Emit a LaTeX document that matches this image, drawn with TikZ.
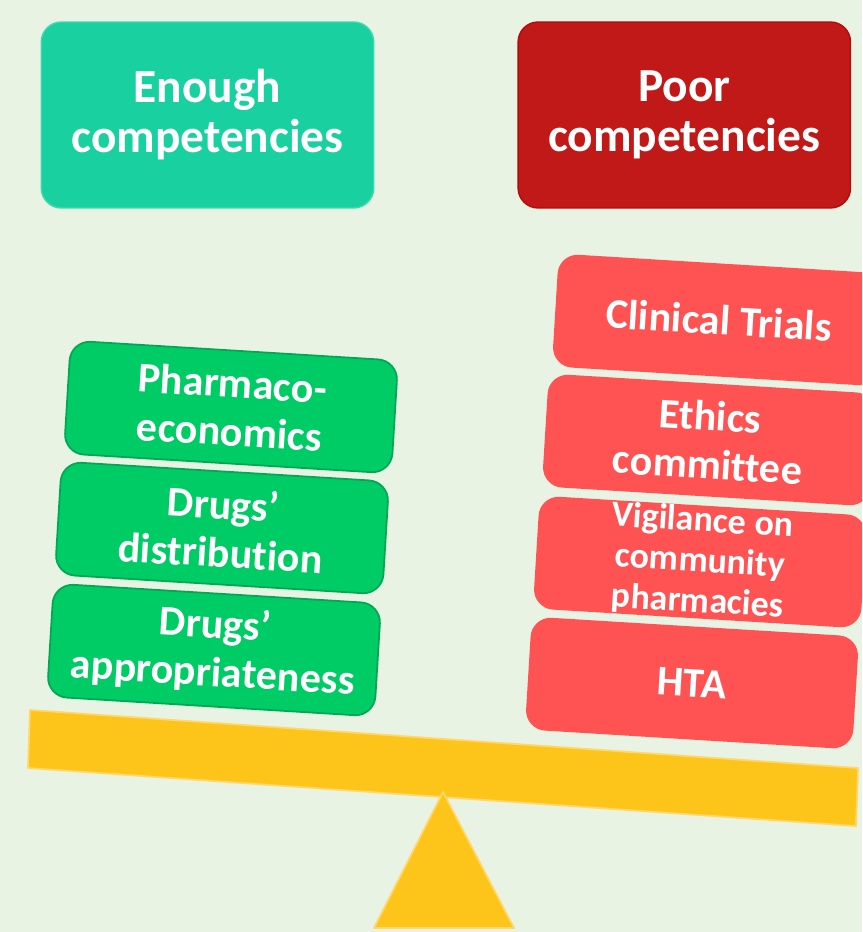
\documentclass[tikz,border=0pt]{standalone}
\usepackage{fontspec}
\setmainfont{Carlito}[Ligatures={TeX,NoCommon}]
\usetikzlibrary{positioning}

\definecolor{bgpale}{RGB}{232,243,227}
\definecolor{tealhead}{RGB}{24,208,160}
\definecolor{tealedge}{RGB}{60,218,176}
\definecolor{redhead}{RGB}{193,24,24}
\definecolor{rededge}{RGB}{176,12,12}
\definecolor{goodgreen}{RGB}{0,204,102}
\definecolor{goodedge}{RGB}{0,168,84}
\definecolor{poorred}{RGB}{255,82,82}
\definecolor{beamyellow}{RGB}{253,196,26}
\definecolor{beamedge}{RGB}{255,216,105}

\begin{document}
\begin{tikzpicture}[x=0.02cm, y=-0.02cm,
    header/.style={rectangle, rounded corners=0.4cm, minimum width=6.65cm, minimum height=3.72cm, align=center, text=white, font=\fontsize{27}{28.5}\selectfont\bfseries, line width=0.8pt},
    enough/.style={header, draw=tealedge, fill=tealhead},
    poor/.style={header, draw=rededge, fill=redhead},
    item/.style={rectangle, rounded corners=0.4cm, rotate=-3.5, minimum width=6.56cm, minimum height=2.26cm, align=center, text=white, font=\fontsize{24}{27.5}\selectfont\bfseries},
    gooditem/.style={item, fill=goodgreen, draw=goodedge, line width=1pt},
    pooritem/.style={item, fill=poorred},
    support/.style={fill=beamyellow, draw=beamedge, line width=1pt, line join=round},
]

% Background and page size
\fill[bgpale] (0,0) rectangle (862,932);
\useasboundingbox (0,0) rectangle (862,932);
\clip (0,0) rectangle (862,932);

% Headers
\node[enough] (enough) at (207.5,115) {Enough\\competencies};
\node[poor, right=2.86cm of enough] (poorhead) {Poor\\competencies};

% Beam of the scale
\draw[support] (30,710) -- (858,768) -- (856,826) -- (28,768) -- cycle;

% Fulcrum
\draw[support] (443,792) -- (514,928) -- (374,928) -- cycle;

% Enough competencies stack
\node[gooditem] (pharma) at (231,407) {Pharmaco-\\economics};
\node[gooditem] (distrib) at (222,528) {Drugs’\\distribution};
\node[gooditem] (approp) at (214,650) {Drugs’\\appropriateness};

% Poor competencies stack
\node[pooritem] (trials) at (719,320) {Clinical Trials};
\node[pooritem] (ethics) at (709,440) {Ethics\\committee};
\node[pooritem, inner ysep=-4pt, font=\fontsize{20.5}{23}\selectfont\bfseries] (vigil) at (700,562) {Vigilance on\\community\\pharmacies};
\node[pooritem] (hta) at (692,683) {HTA};

\end{tikzpicture}
\end{document}
